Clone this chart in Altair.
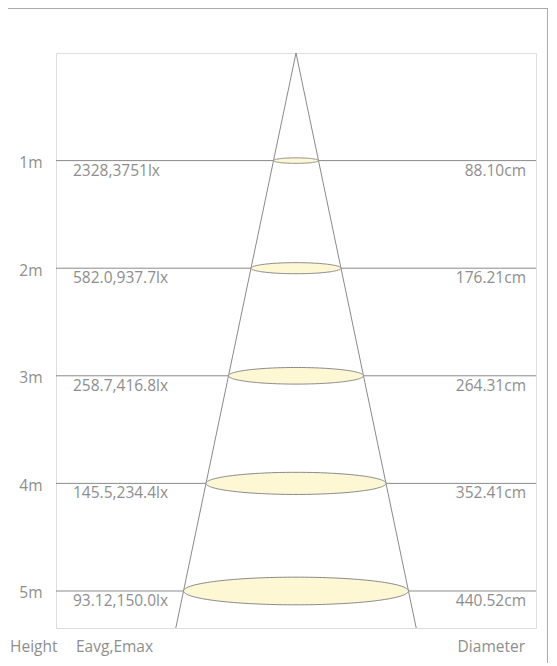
import altair as alt
import pandas as pd

heights = [1, 2, 3, 4, 5]
illuminance = ["2328,3751lx", "582.0,937.7lx", "258.7,416.8lx", "145.5,234.4lx", "93.12,150.0lx"]
diameters = [88.10, 176.21, 264.31, 352.41, 440.52]
diameter_labels = ["88.10cm", "176.21cm", "264.31cm", "352.41cm", "440.52cm"]
footer_labels = ["Height", "Eavg,Emax", "Diameter"]

FONT = "Open Sans"
FS = 15.5
GRAY = "#8e8e8e"
LINE = "#8a8a8a"
FILL = "#fdf7d4"

W, H = 480, 575
xs = alt.Scale(domain=[-4.7, 4.7], nice=False, zero=False)
ys = alt.Scale(domain=[0, 5.344], nice=False, zero=False, reverse=True)

df = pd.DataFrame({"height": heights, "diameter": diameters,
                   "lux": illuminance, "dlabel": diameter_labels})

slope = diameters[-1] / 100 / 2 / heights[-1]
cone = pd.DataFrame({"x": [0.0, 0.0], "y": [0.0, 0.0],
                     "x2": [-slope * 6, slope * 6], "y2": [6.0, 6.0]})

base = alt.Chart(df)

hlines = base.mark_rule(color=LINE, strokeWidth=1).encode(
    y=alt.Y("height:Q", scale=ys,
            axis=alt.Axis(values=heights, labelExpr="datum.value + 'm'", ticks=False,
                          domain=False, grid=False, labelPadding=14, title=None,
                          labelFontSize=FS, labelColor=GRAY, labelFont=FONT,
                          labelOffset=2))
)

cone_lines = alt.Chart(cone).mark_rule(color=LINE, strokeWidth=1, clip=True).encode(
    x=alt.X("x:Q", scale=xs, axis=None), y=alt.Y("y:Q", scale=ys), x2="x2:Q", y2="y2:Q"
)

ellipses = base.transform_calculate(
    ts="sequence(0, 81)"
).transform_flatten(["ts"]).transform_calculate(
    r="datum.diameter / 200",
    th="datum.ts / 80 * PI",
).transform_calculate(
    ex="datum.r * cos(datum.th)",
    yu="datum.height - 0.0584 * datum.r * sin(datum.th)",
    yl="datum.height + 0.0584 * datum.r * sin(datum.th)",
).mark_area(fill=FILL, stroke=LINE, strokeWidth=1, opacity=1).encode(
    x=alt.X("ex:Q", scale=xs, axis=None),
    y=alt.Y("yu:Q", scale=ys),
    y2="yl:Q",
    detail="height:N",
)

lux_text = base.mark_text(align="left", baseline="middle", dy=10, font=FONT,
                          fontSize=FS, color=GRAY).encode(
    x=alt.value(17), y=alt.Y("height:Q", scale=ys), text="lux:N")

diam_text = base.mark_text(align="right", baseline="middle", dy=10, font=FONT,
                           fontSize=FS, color=GRAY).encode(
    x=alt.value(470), y=alt.Y("height:Q", scale=ys), text="dlabel:N")

def footer(label, xpos, align):
    return alt.Chart(pd.DataFrame({"t": [label]})).mark_text(
        align=align, baseline="middle", font=FONT, fontSize=FS, color=GRAY
    ).encode(x=alt.value(xpos), y=alt.value(H + 19), text="t:N")

foot = footer(footer_labels[0], -46, "left") + footer(footer_labels[1], 20, "left") + \
    footer(footer_labels[2], 469, "right")

border_top = alt.Chart(df.head(1)).mark_rule(color="#aaaaaa", strokeWidth=1).encode(
    x=alt.value(-48), x2=alt.value(492), y=alt.value(-44.5))
border_right = alt.Chart(df.head(1)).mark_rule(color="#aaaaaa", strokeWidth=1).encode(
    x=alt.value(491.5), y=alt.value(-45), y2=alt.value(H + 40))

chart = alt.layer(
    hlines, cone_lines, ellipses, lux_text, diam_text, foot, border_top, border_right
).properties(
    width=W, height=H,
    autosize="none",
    padding={"left": 48, "top": 45, "right": 12, "bottom": 35},
).configure_view(stroke="#9a9a9a", strokeWidth=1).configure(background="white")

chart.save("out.html", embed_options={"renderer": "svg", "actions": False})
